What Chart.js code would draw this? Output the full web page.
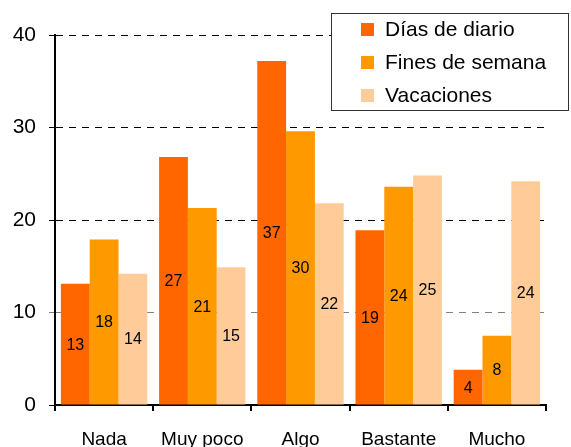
<!DOCTYPE html>
<html>
<head>
<meta charset="utf-8">
<script src="https://cdn.jsdelivr.net/npm/chart.js@4.4.0/dist/chart.umd.min.js"></script>
<style>
  html, body { margin: 0; padding: 0; background: #fff; }
  #wrap { width: 571px; height: 447px; }
</style>
</head>
<body>
<div id="wrap"><canvas id="grafico"></canvas></div>
<script>
const categorias = ["Nada", "Muy poco", "Algo", "Bastante", "Mucho"];
const diasDiario = [13.1, 26.8, 37.2, 18.9, 3.8];
const finesSemana = [17.9, 21.3, 29.6, 23.6, 7.5];
const vacaciones = [14.2, 14.9, 21.8, 24.8, 24.2];
const ticksY = [0, 10, 20, 30, 40];

const FUENTE = "Arial, 'Liberation Sans', sans-serif";

// etiquetas de valor centradas en cada barra
const etiquetasBarras = {
  id: "etiquetasBarras",
  afterDatasetsDraw(chart) {
    const ctx = chart.ctx;
    ctx.save();
    ctx.font = "16px " + FUENTE;
    ctx.fillStyle = "#000";
    ctx.textAlign = "center";
    ctx.textBaseline = "middle";
    chart.data.datasets.forEach((ds, i) => {
      chart.getDatasetMeta(i).data.forEach((bar, j) => {
        ctx.fillText(Math.round(ds.data[j]), bar.x, (bar.y + bar.base) / 2 + 1);
      });
    });
    ctx.restore();
  }
};

// leyenda en recuadro, encima del grafico
const leyendaCaja = {
  id: "leyendaCaja",
  afterDraw(chart) {
    const ctx = chart.ctx;
    ctx.save();
    ctx.fillStyle = "#fff";
    ctx.fillRect(331, 13, 238, 98);
    ctx.strokeStyle = "#333";
    ctx.lineWidth = 1;
    ctx.strokeRect(331.5, 13.5, 237, 97);
    ctx.font = "21px " + FUENTE;
    ctx.textBaseline = "middle";
    chart.data.datasets.forEach((ds, i) => {
      const y = 29 + i * 33;
      ctx.fillStyle = ds.backgroundColor;
      ctx.fillRect(361, y - 6, 13, 13);
      ctx.fillStyle = "#000";
      ctx.fillText(ds.label, 385, y + 1);
    });
    ctx.restore();
  }
};

new Chart(document.getElementById("grafico"), {
  type: "bar",
  data: {
    labels: categorias,
    datasets: [
      { label: "Días de diario", data: diasDiario, backgroundColor: "#FF6600" },
      { label: "Fines de semana", data: finesSemana, backgroundColor: "#FF9900" },
      { label: "Vacaciones", data: vacaciones, backgroundColor: "#FFCC99" }
    ]
  },
  options: {
    responsive: true,
    maintainAspectRatio: false,
    animation: false,
    layout: { padding: { top: 35, right: 25, left: 0, bottom: 0 } },
    datasets: { bar: { categoryPercentage: 0.88, barPercentage: 1.0 } },
    plugins: { legend: { display: false }, tooltip: { enabled: false } },
    scales: {
      x: {
        grid: { drawOnChartArea: false, color: "#000", lineWidth: 2, tickLength: 6, offset: true },
        border: { color: "#000", width: 2 },
        ticks: { color: "#000", font: { size: 19, family: FUENTE }, padding: 17, maxRotation: 0 },
        afterFit(scale) { scale.height = 42; }
      },
      y: {
        min: 0,
        max: 40,
        afterBuildTicks(scale) { scale.ticks = ticksY.map(v => ({ value: v })); },
        grid: {
          color: ctx => (ctx.tick && ctx.tick.value === 10 ? "#808080" : "#000"),
          lineWidth: 1,
          tickLength: 6
        },
        border: { color: "#000", width: 2, dash: [7, 6] },
        ticks: { color: "#000", font: { size: 21, family: FUENTE }, padding: 13 },
        afterFit(scale) { scale.width = 55; }
      }
    }
  },
  plugins: [etiquetasBarras, leyendaCaja]
});
</script>
</body>
</html>
